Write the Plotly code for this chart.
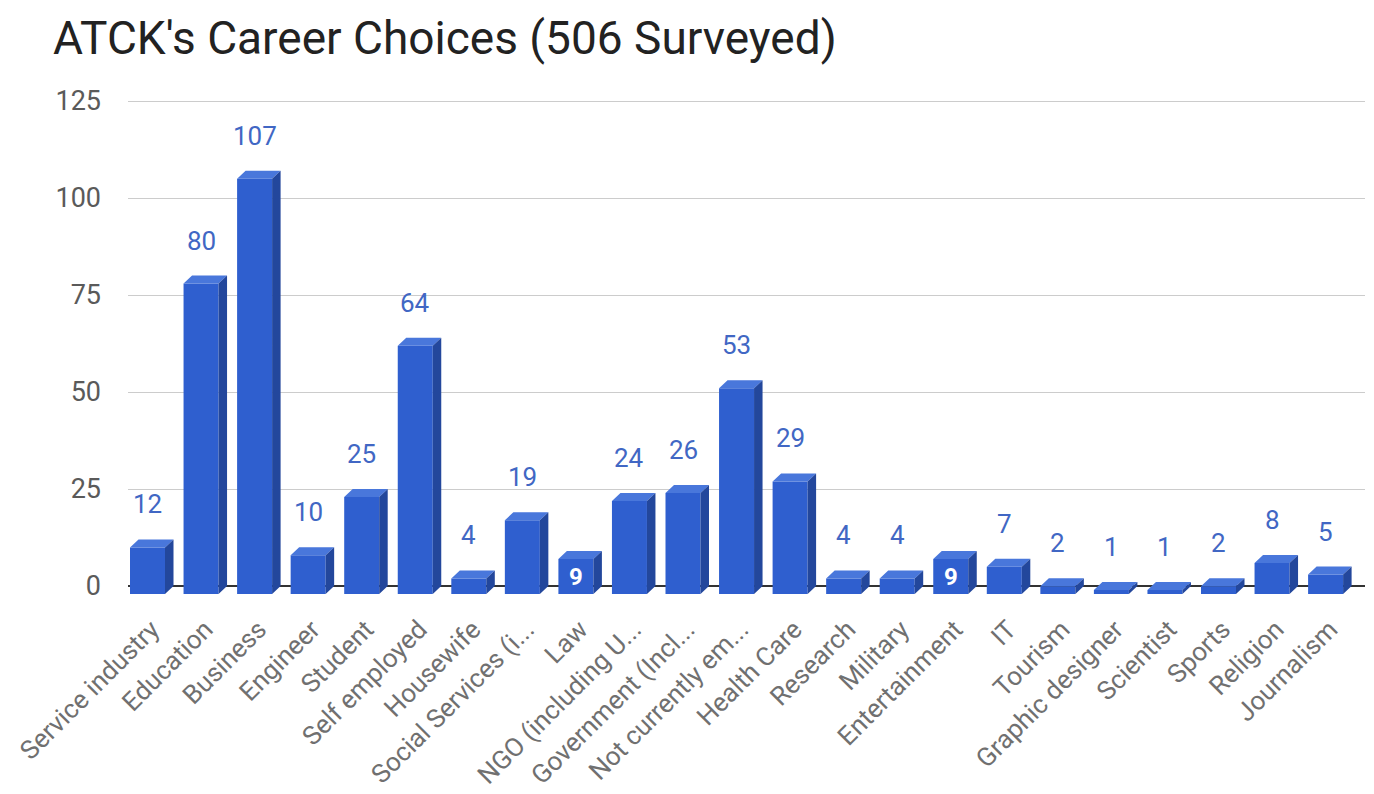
import plotly.graph_objects as go

# Survey results: career choices of adult third culture kids
categories = [
    "Service industry", "Education", "Business", "Engineer", "Student",
    "Self employed", "Housewife", "Social Services (i...", "Law",
    "NGO (including U...", "Government (Incl...", "Not currently em...",
    "Health Care", "Research", "Military", "Entertainment", "IT", "Tourism",
    "Graphic designer", "Scientist", "Sports", "Religion", "Journalism",
]
counts = [12, 80, 107, 10, 25, 64, 4, 19, 9, 24, 26, 53, 29, 4, 4, 9, 7, 2, 1, 1, 2, 8, 5]
y_ticks = [0, 25, 50, 75, 100, 125]
inside_label_values = [9]  # values printed inside the bar in white

W, H = 1374, 794
M_L, M_R, M_T, M_B = 128, 9, 93, 196
plot_w = W - M_L - M_R
plot_h = H - M_T - M_B

# pixel geometry of the pseudo-3D boxes
band_px = 53.55
face_px = 35.0
depth_x_px = 8.5
depth_y_px = 8.0
y_px_per_unit = 3.88

x_lo = -(151.75 - M_L) / band_px
x_hi = x_lo + plot_w / band_px
y_hi = 125 + (101 - M_T) / y_px_per_unit
y_lo = y_hi - plot_h / y_px_per_unit

ddx = depth_x_px / band_px
ddy = depth_y_px / y_px_per_unit
half = face_px / 2 / band_px
front_shift = -ddx / 2  # front face sits left of the category centre

FRONT = "#2f5fcf"
TOP = "#4977db"
SIDE = "#23479c"
LABEL = "#4167c4"

idx = list(range(len(categories)))
front_c = [i + front_shift for i in idx]

fig = go.Figure()

# front faces
fig.add_trace(go.Bar(
    x=front_c, y=counts, base=[-ddy] * len(counts), width=2 * half,
    marker=dict(color=FRONT, line=dict(width=0)), hoverinfo="skip",
))

# top faces
tx, ty = [], []
for c, v in zip(front_c, counts):
    l, r = c - half, c + half
    tx += [l, r, r + ddx, l + ddx, l, None]
    ty += [v - ddy, v - ddy, v, v, v - ddy, None]
fig.add_trace(go.Scatter(x=tx, y=ty, mode="lines", fill="toself", fillcolor=TOP,
                         line=dict(width=0, color=TOP), hoverinfo="skip"))

# side faces
sx, sy = [], []
for c, v in zip(front_c, counts):
    r = c + half
    sx += [r, r + ddx, r + ddx, r, r, None]
    sy += [v - ddy, v, 0, -ddy, v - ddy, None]
fig.add_trace(go.Scatter(x=sx, y=sy, mode="lines", fill="toself", fillcolor=SIDE,
                         line=dict(width=0, color=SIDE), hoverinfo="skip"))

# value labels
annotations = []
for c, v in zip(front_c, counts):
    if v in inside_label_values:
        annotations.append(dict(
            x=c, y=v / 2 - ddy, xref="x", yref="y", text=f"<b>{v}</b>",
            showarrow=False, font=dict(family="Roboto", size=24, color="white"),
            xanchor="center", yanchor="middle",
        ))
    else:
        annotations.append(dict(
            x=c, y=v, xref="x", yref="y", text=str(v), showarrow=False,
            font=dict(family="Roboto", size=26, color=LABEL),
            xanchor="center", yanchor="middle", yshift=35,
        ))

fig.update_layout(
    width=W, height=H,
    margin=dict(l=M_L, r=M_R, t=M_T, b=M_B, autoexpand=False),
    paper_bgcolor="white", plot_bgcolor="white",
    showlegend=False,
    title=dict(
        text="ATCK's Career Choices (506 Surveyed)",
        font=dict(family="Roboto", size=46, color="#222222"),
        x=53 / W, xref="container", xanchor="left",
        y=1 - 38 / H, yref="container", yanchor="middle",
    ),
    xaxis=dict(
        range=[x_lo, x_hi], tickmode="array", tickvals=idx, ticktext=categories,
        tickangle=-45, showgrid=False, zeroline=False, showline=False,
        ticklabelstandoff=10,
        tickfont=dict(family="Roboto", size=26, color="#707070"),
        automargin=False, fixedrange=True,
    ),
    yaxis=dict(
        range=[y_lo, y_hi], tickmode="array", tickvals=y_ticks,
        showgrid=True, gridcolor="#cccccc", gridwidth=1,
        zeroline=True, zerolinecolor="#333333", zerolinewidth=2,
        showline=False, ticklabelstandoff=26,
        tickfont=dict(family="Roboto", size=27, color="#5a5a5a"),
        automargin=False, fixedrange=True,
    ),
    annotations=annotations,
)

fig.write_html("out.html")
